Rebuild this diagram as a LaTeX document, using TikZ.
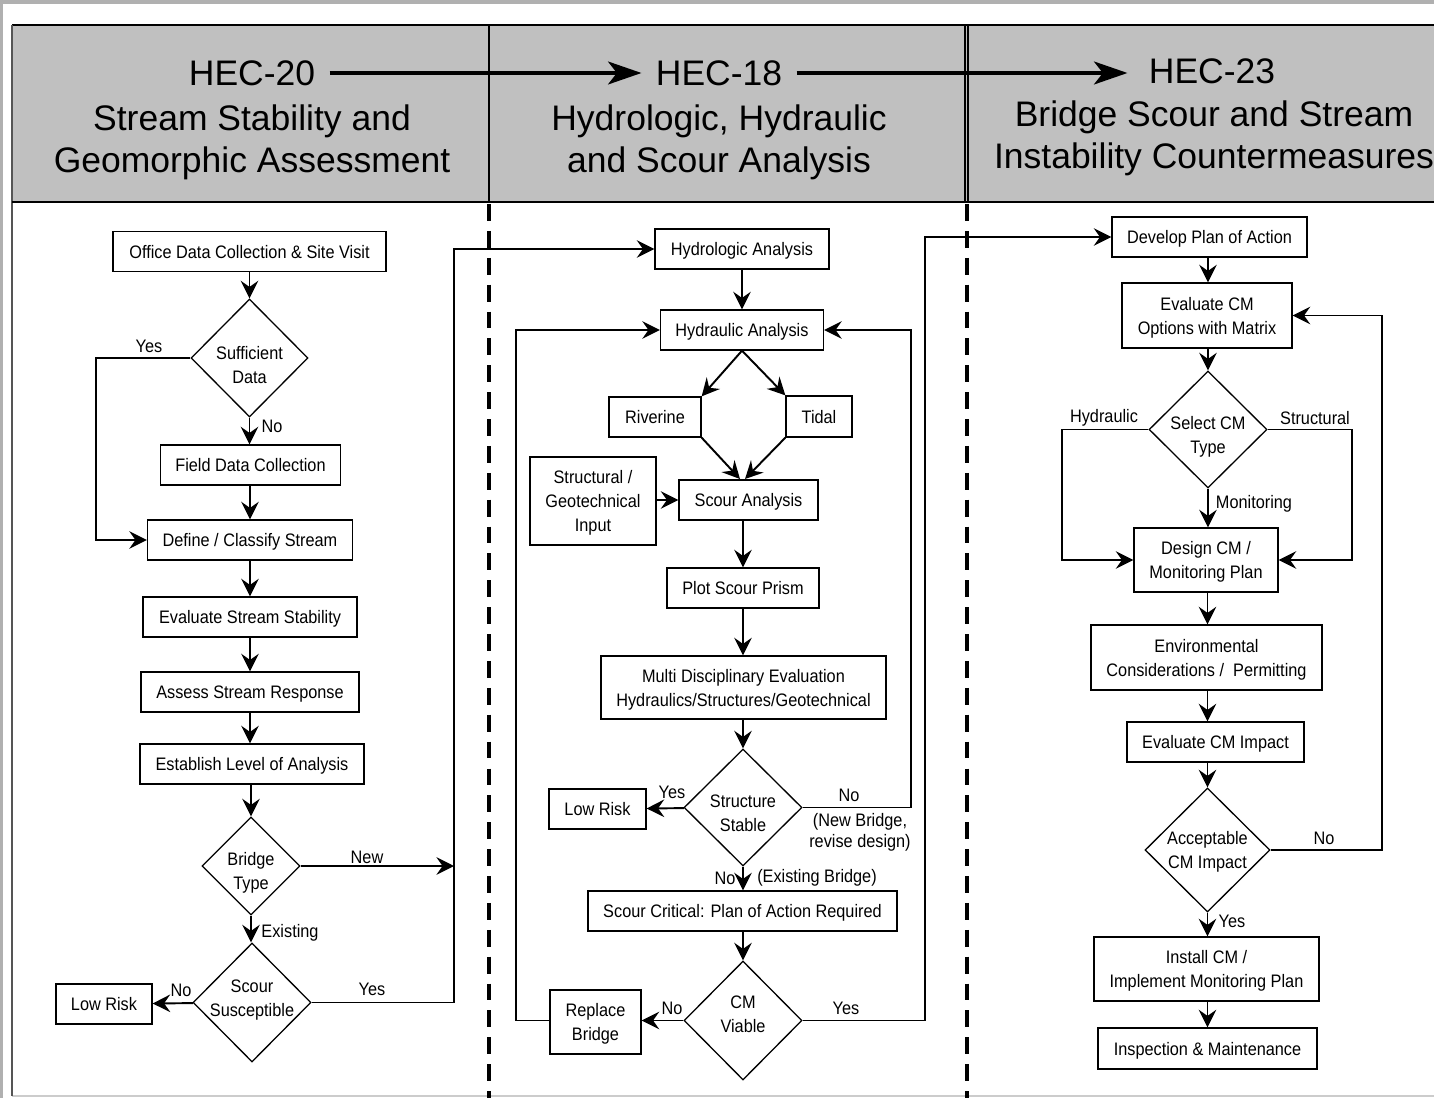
\documentclass[tikz,border=0pt]{standalone}
\usepackage{fontspec}
\setmainfont{Liberation Sans}
\newfontfamily\narrowfont[FakeStretch=0.9]{Liberation Sans}
\usetikzlibrary{shapes.geometric,arrows.meta}

\definecolor{headgrey}{HTML}{C0C0C0}
\definecolor{shadegrey}{HTML}{B0B0B0}
\definecolor{edgegrey}{HTML}{555555}

\tikzset{
  box/.style={draw,line width=0.75pt,fill=white,align=center,inner sep=0pt,text depth=0pt,
    font=\narrowfont\fontsize{10.3}{13.6}\selectfont},
  dia/.style={box,diamond,inner sep=-14pt},
  lbl/.style={inner sep=0pt,align=center,font=\narrowfont\fontsize{10.3}{12}\selectfont},
  title/.style={inner sep=8pt,font=\fontsize{20.2}{24}\selectfont},
  subtitle/.style={inner sep=0pt,align=center,font=\fontsize{20.2}{24}\selectfont},
  flow/.style={line width=1.1pt,->},
  bigflow/.style={line width=2.2pt,-{Stealth[length=19pt,width=13pt,inset=5pt]}},
  divider/.style={line width=2.2pt,dash pattern=on 9.6pt off 5.7pt}
}

\begin{document}
\begin{tikzpicture}[x=0.02cm,y=-0.02cm,>={Stealth[length=10pt,width=10pt,inset=3.5pt]}]

\useasboundingbox (0,0) rectangle (1434,1098);

% frame and header band
\fill[shadegrey] (0,0) rectangle (1434,4);
\fill[shadegrey] (0,0) rectangle (3,1098);
\draw[gray!40,line width=1pt] (12,1096)--(1434,1096);
\fill[headgrey] (12,25) rectangle (1434,202);
\draw[line width=0.8pt] (1434,25)--(12,25);
\draw[edgegrey,line width=1pt] (12,25)--(12,1096);
\draw[line width=1pt] (12,202)--(1434,202);
\draw[line width=1.7pt] (489,25)--(489,202);
\draw[line width=0.7pt] (965,25)--(965,202);
\draw[line width=0.7pt] (968,25)--(968,202);
\draw[divider] (489,204)--(489,1098);
\draw[divider] (967,204)--(967,1098);

\node[title] (hec20) at (252,73) {HEC-20};
\node[title] (hec18) at (719,73) {HEC-18};
\node[title] (hec23) at (1212,71) {HEC-23};
\node[subtitle] (t20) at (252,142) {Stream Stability and\\Geomorphic Assessment};
\node[subtitle] (t18) at (719,142) {Hydrologic, Hydraulic\\and Scour Analysis};
\node[subtitle] (t23) at (1214,138) {Bridge Scour and Stream\\Instability Countermeasures};
\draw[bigflow] (hec20)--(hec18);
\draw[bigflow,shorten >=4pt] (hec18)--(hec18 -| hec23.west);

% HEC-20 column
\node[box,minimum width=5.46cm,minimum height=0.8cm] (office) at (249.5,251.5) {Office Data Collection \& Site Visit};
\node[dia,minimum width=2.34cm,minimum height=2.36cm,text height=29.1pt] (suff) at (249.5,358) {Sufficient\\Data};
\node[box,minimum width=3.6cm,minimum height=0.8cm] (field) at (250.5,465) {Field Data Collection};
\node[box,minimum width=4.1cm,minimum height=0.8cm] (define) at (250,540) {Define / Classify Stream};
\node[box,minimum width=4.28cm,minimum height=0.8cm] (evalst) at (250,617) {Evaluate Stream Stability};
\node[box,minimum width=4.36cm,minimum height=0.8cm] (assess) at (250,692) {Assess Stream Response};
\node[box,minimum width=4.48cm,minimum height=0.8cm] (level) at (252,764) {Establish Level of Analysis};
\node[dia,minimum width=1.96cm,minimum height=1.96cm,text height=26.9pt] (btype) at (251,866) {Bridge\\Type};
\node[dia,minimum width=2.36cm,minimum height=2.38cm,text depth=5pt] (scsus) at (252,1002.5) {Scour\\Susceptible};
\node[box,minimum width=1.92cm,minimum height=0.8cm] (lowA) at (104,1004) {Low Risk};
\coordinate (yesL) at (96,540);
\coordinate (bus) at (454,249);

\draw[flow] (office)--(suff);
\draw[flow] (suff)--(field.north -| suff);
\draw[flow] (suff.west) -| (yesL)--(define.west);
\draw[flow] (field.south -| define)--(define);
\draw[flow] (define)--(evalst);
\draw[flow] (evalst)--(assess);
\draw[flow] (assess)--(level.north -| assess);
\draw[flow] (level.south -| btype)--(btype);
\draw[flow] (btype)--(scsus.north -| btype);
\draw[flow] (btype.east)--(btype.east -| bus);
\draw[flow] (scsus)--(lowA);

\node[lbl] (lYesA) at (149,346) {Yes};
\node[lbl] (lNoA) at (272,426) {No};
\node[lbl] (lNew) at (367,857) {New};
\node[lbl] (lExist) at (290,933) {Existing};
\node[lbl] (lNoB) at (181,990) {No};
\node[lbl] (lYesB) at (372,989) {Yes};

% HEC-18 column
\node[box,minimum width=3.48cm,minimum height=0.8cm] (hydro) at (742,249) {Hydrologic Analysis};
\node[box,minimum width=3.26cm,minimum height=0.8cm] (hydra) at (742,330) {Hydraulic Analysis};
\node[box,minimum width=1.84cm,minimum height=0.8cm] (river) at (655,417) {Riverine};
\node[box,minimum width=1.32cm,minimum height=0.82cm] (tidal) at (819,416.5) {Tidal};
\node[box,minimum width=2.52cm,minimum height=1.76cm] (geo) at (593,501) {Structural /\\Geotechnical\\Input};
\node[box,minimum width=2.78cm,minimum height=0.8cm] (scour) at (748.5,500) {Scour Analysis};
\node[box,minimum width=3.04cm,minimum height=0.8cm] (prism) at (743,588) {Plot Scour Prism};
\node[box,minimum width=5.7cm,minimum height=1.26cm] (multi) at (743.5,687.5) {Multi Disciplinary Evaluation\\Hydraulics/Structures/Geotechnical};
\node[dia,minimum width=2.36cm,minimum height=2.34cm,text height=27.4pt] (stable) at (743,807.5) {Structure\\Stable};
\node[box,minimum width=1.94cm,minimum height=0.8cm] (lowB) at (597.5,809) {Low Risk};
\node[box,minimum width=6.18cm,minimum height=0.8cm] (critical) at (742.5,911) {Scour Critical: Plan of Action Required};
\node[dia,minimum width=2.36cm,minimum height=2.38cm,text depth=6.8pt] (viable) at (743,1020.5) {CM\\Viable};
\node[box,minimum width=1.82cm,minimum height=1.28cm] (replace) at (595.5,1022) {Replace\\Bridge};
\coordinate (jnA) at (740,479);
\coordinate (jnB) at (745,479);
\coordinate (loopR) at (911,330);
\coordinate (loopL) at (516,330);
\coordinate (busR) at (925,237);

\draw[flow] (hydro)--(hydra);
\draw[flow] (hydra.south)--(river.north east);
\draw[flow] (hydra.south)--(tidal.north west);
\draw[flow] (river.south east)--(jnA);
\draw[flow] (tidal.south west)--(jnB);
\draw[flow] (geo.east |- scour)--(scour);
\draw[flow] (scour.south -| prism)--(prism);
\draw[flow] (prism)--(multi.north -| prism);
\draw[flow] (multi.south -| stable)--(stable);
\draw[flow] (stable)--(lowB);
\draw[flow] (stable.east) -| (loopR)--(hydra.east);
\draw[flow] (stable)--(critical.north -| stable);
\draw[flow] (critical.south -| viable)--(viable);
\draw[flow] (viable)--(replace.east |- viable);
\draw[flow] (replace.west |- viable) -| (loopL)--(hydra.west);

\node[lbl] (lYesC) at (672,792) {Yes};
\node[lbl] (lNoC) at (849,795) {No};
\node[lbl] (lRevise) at (860,832) {(New Bridge,\\revise design)};
\node[lbl] (lNoD) at (725,878) {No};
\node[lbl] (lExistB) at (817,878) {(Existing Bridge)};
\node[lbl] (lNoE) at (672,1008) {No};
\node[lbl] (lYesD) at (846,1008) {Yes};

% HEC-23 column
\node[box,minimum width=3.9cm,minimum height=0.8cm] (plan) at (1209.5,237) {Develop Plan of Action};
\node[box,minimum width=3.4cm,minimum height=1.3cm] (options) at (1207,315.5) {Evaluate CM\\Options with Matrix};
\node[dia,minimum width=2.36cm,minimum height=2.34cm,text height=26.9pt] (cmtype) at (1208,429.5) {Select CM\\Type};
\node[box,minimum width=2.88cm,minimum height=1.28cm] (design) at (1206,560) {Design CM /\\Monitoring Plan};
\node[box,minimum width=4.62cm,minimum height=1.3cm] (env) at (1206.5,657.5) {Environmental\\Considerations /\ \ Permitting};
\node[box,minimum width=3.54cm,minimum height=0.8cm] (impact) at (1215.5,742) {Evaluate CM Impact};
\node[dia,minimum width=2.5cm,minimum height=2.48cm] (accept) at (1207.5,850) {Acceptable\\CM Impact};
\node[box,minimum width=4.5cm,minimum height=1.28cm] (install) at (1206.5,969) {Install CM /\\Implement Monitoring Plan};
\node[box,minimum width=4.38cm,minimum height=0.82cm] (inspect) at (1207.5,1048.5) {Inspection \& Maintenance};
\coordinate (hydL) at (1062,560);
\coordinate (strR) at (1352,560);
\coordinate (loopCM) at (1382,315.5);

\draw[flow] (plan.south -| cmtype)--(options.north -| cmtype);
\draw[flow] (options.south -| cmtype)--(cmtype);
\draw[flow] (cmtype)--(design.north -| cmtype);
\draw[flow] (cmtype.west) -| (hydL)--(design.west);
\draw[flow] (cmtype.east) -| (strR)--(design.east);
\draw[flow] (design.south -| accept)--(env.north -| accept);
\draw[flow] (env.south -| accept)--(impact.north -| accept);
\draw[flow] (impact.south -| accept)--(accept);
\draw[flow] (accept.east) -| (loopCM)--(options.east);
\draw[flow] (accept)--(install.north -| accept);
\draw[flow] (install.south -| accept)--(inspect.north -| accept);

\node[lbl] (lHyd) at (1104,418) {Hydraulic};
\node[lbl] (lStr) at (1315,418) {Structural};
\node[lbl] (lMon) at (1254,504) {Monitoring};
\node[lbl] (lNoF) at (1324,838) {No};
\node[lbl] (lYesE) at (1232,921) {Yes};

% links between the columns
\draw[flow] (scsus.east) -| (bus)--(hydro.west);
\draw[flow] (viable.east) -| (busR)--(plan.west);

\end{tikzpicture}
\end{document}
